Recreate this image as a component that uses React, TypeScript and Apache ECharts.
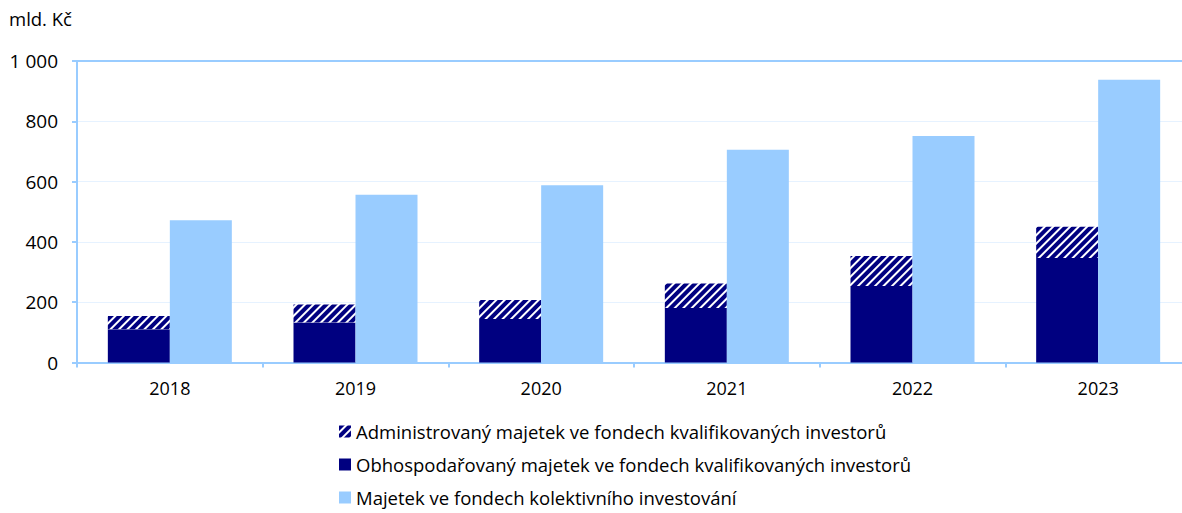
import React, { useEffect, useRef } from "react";
import * as echarts from "echarts";

const categories = ["2018", "2019", "2020", "2021", "2022", "2023"];
const obhospodarovany = [110, 133, 144, 181, 254, 347];
const administrovany = [44, 59, 63, 81, 99, 103];
const kolektivni = [472, 556, 588, 706, 751, 938];
const seriesNames = [
  "Administrovaný majetek ve fondech kvalifikovaných investorů",
  "Obhospodařovaný majetek ve fondech kvalifikovaných investorů",
  "Majetek ve fondech kolektivního investování",
];

const FONT = "'Open Sans', 'Noto Sans', sans-serif";
const AXIS = "#99CCFF";

export default function App() {
  const ref = useRef<HTMLDivElement>(null);
  useEffect(() => {
    const chart = echarts.init(ref.current!, null, { renderer: "svg" });
    const decal = {
      symbol: "rect",
      color: "#000080",
      dashArrayX: [1, 0],
      dashArrayY: [3.5, 2],
      symbolSize: 1,
      rotation: -Math.PI / 4,
    };
    chart.setOption({
      animation: false,
      textStyle: { fontFamily: FONT },
      graphic: [
        {
          type: "text",
          left: 9,
          top: 9,
          style: { text: "mld. Kč", font: `18.5px ${FONT}`, fill: "#000" },
        },
      ],
      legend: {
        orient: "vertical",
        left: 334,
        top: 417,
        height: 140,
        itemGap: 14,
        itemWidth: 12,
        itemHeight: 12,
        icon: "rect",
        textStyle: { fontSize: 18.5, color: "#000", fontFamily: FONT },
        data: seriesNames,
      },
      grid: { left: 77, right: 0, top: 61, bottom: 150.5, containLabel: false },
      xAxis: [
        {
          type: "category",
          data: categories,
          axisLine: { lineStyle: { color: AXIS, width: 2 } },
          axisTick: { show: true, length: 5, lineStyle: { color: AXIS, width: 2 } },
          axisLabel: { color: "#000", fontSize: 18, margin: 16, fontFamily: FONT },
        },
        {
          type: "category",
          data: categories,
          position: "top",
          axisLine: { show: true, lineStyle: { color: AXIS, width: 2 } },
          axisTick: { show: false },
          axisLabel: { show: false },
        },
      ],
      yAxis: {
        type: "value",
        min: 0,
        max: 1000,
        interval: 200,
        axisLine: { show: true, lineStyle: { color: AXIS, width: 2 } },
        axisTick: { show: true, length: 5, lineStyle: { color: AXIS, width: 2 } },
        splitLine: { lineStyle: { color: "#E6F2FF", width: 1 } },
        axisLabel: {
          color: "#000",
          fontSize: 19,
          margin: 19,
          fontFamily: FONT,
          formatter: (v: number) => String(v).replace(/\B(?=(\d{3})+(?!\d))/g, " "),
        },
      },
      series: [
        {
          name: seriesNames[1],
          type: "bar",
          stack: "kvi",
          data: obhospodarovany,
          barWidth: 62,
          barGap: "0%",
          itemStyle: { color: "#000080" },
        },
        {
          name: seriesNames[0],
          type: "bar",
          stack: "kvi",
          data: administrovany,
          barWidth: 62,
          barGap: "0%",
          itemStyle: { color: "#ffffff", decal },
        },
        {
          name: seriesNames[2],
          type: "bar",
          data: kolektivni,
          barWidth: 62,
          barGap: "0%",
          itemStyle: { color: "#99CCFF" },
        },
      ],
    });
    return () => chart.dispose();
  }, []);
  return (
    <div style={{ position: "absolute", left: 0, top: 0, width: 1182, height: 513, overflow: "hidden" }}>
      <div ref={ref} style={{ width: 1191, height: 513 }} />
    </div>
  );
}
